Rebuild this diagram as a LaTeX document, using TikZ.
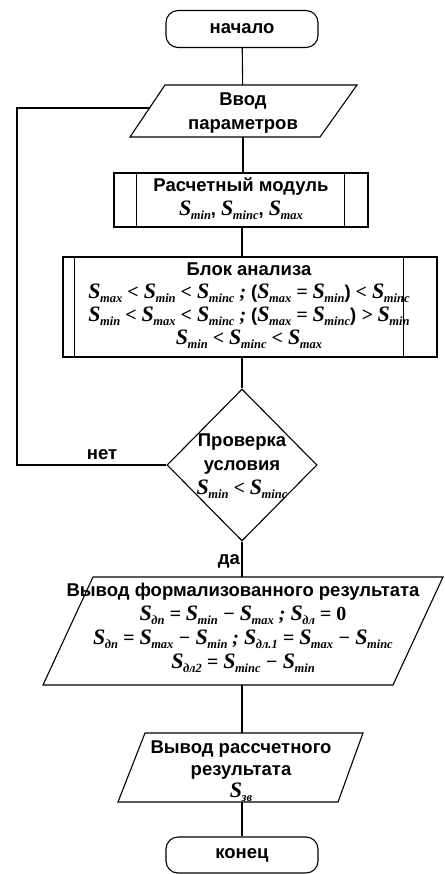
\documentclass[tikz,border=0pt]{standalone}
\usepackage{fontspec}
\setmainfont{Liberation Sans}
\newfontfamily\mf{Liberation Serif}
\usetikzlibrary{shapes.geometric}
\newcommand{\Sv}[1]{{\mf\bfseries\itshape\fontsize{22}{22}\selectfont S\kern-0.5pt\raisebox{-4pt}{\fontsize{12.5}{12.5}\selectfont #1}}}
\newcommand{\op}[1]{{\mf\bfseries\itshape\fontsize{20}{20}\selectfont\hspace{5pt}#1\hspace{5pt}}}
\tikzset{
  txt/.style={font=\fontsize{18.5}{24}\selectfont\bfseries, align=center, inner sep=0pt},
  term/.style={draw, line width=1.1pt, rounded corners=12pt, minimum width=152pt, minimum height=37pt, inner sep=0pt, font=\fontsize{18.5}{22}\selectfont\bfseries},
  box/.style={minimum width=#1, inner sep=0pt},
  ln/.style={line width=1.1pt},
  lbl/.style={font=\fontsize{18.5}{20}\selectfont\bfseries, inner sep=0pt}
}
\begin{document}
\begin{tikzpicture}[x=1pt,y=-1pt]
\useasboundingbox (0,0) rectangle (444,874);
% start
\node[term] (start) at (242,29) {начало};
% input
\node[box=190pt, minimum height=52pt] (inp) at (243,111) {};
\node[txt] (inpt) at (243,113) {Ввод\\параметров};
\draw[ln] (130,137) -- (165,85) -- (357,85) -- (320,137) -- cycle;
\coordinate (lp) at (149.5,108);
% calc
\node[draw, ln, minimum width=254pt, minimum height=54pt, inner sep=0pt] (calc) at (241,200) {};
\draw[ln] ([xshift=23pt]calc.north west) -- ([xshift=23pt]calc.south west);
\draw[ln] ([xshift=-24pt]calc.north east) -- ([xshift=-24pt]calc.south east);
\node[txt] (calct) at (241,199) {Расчетный модуль\\[0pt]\Sv{min}, \Sv{minc}, \Sv{max}};
% analysis
\node[draw, ln, minimum width=374pt, minimum height=100pt, inner sep=0pt] (anal) at (250,307) {};
\draw[ln] ([xshift=12pt]anal.north west) -- ([xshift=12pt]anal.south west);
\draw[ln] ([xshift=-34pt]anal.north east) -- ([xshift=-34pt]anal.south east);
\node[txt, font=\fontsize{18.5}{23}\selectfont\bfseries] (analt) at (249,306) {Блок анализа\\
\Sv{max}\op{<}\Sv{min}\op{<}\Sv{minc}\op{;}(\Sv{max}\op{=}\Sv{min})\op{<}\Sv{minc}\\
\Sv{min}\op{<}\Sv{max}\op{<}\Sv{minc}\op{;}(\Sv{max}\op{=}\Sv{minc})\op{>}\Sv{min}\\
\Sv{min}\op{<}\Sv{minc}\op{<}\Sv{max}};
% decision
\node[draw, ln, diamond, minimum width=150pt, minimum height=152pt, inner sep=0pt] (dec) at (242,465) {};
\node[txt] (dect) at (242,466) {Проверка\\условия\\\Sv{min}\op{<}\Sv{minc}};
% output 1
\node[box=350pt, minimum height=108pt] (out1) at (243,631) {};
\draw[ln] (43,685) -- (93,577) -- (443,577) -- (393,685) -- cycle;
\node[txt, font=\fontsize{18.5}{24}\selectfont\bfseries] (out1t) at (243,628) {Вывод формализованного результата\\
\Sv{дп}\op{=}\Sv{min}\op{−}\Sv{max}\op{;}\Sv{дл}\op{=}{\mf\bfseries\fontsize{20}{20}\selectfont0}\\
\Sv{дп}\op{=}\Sv{max}\op{−}\Sv{min}\op{;}\Sv{дл.1}\op{=}\Sv{max}\op{−}\Sv{minc}\\
\Sv{дл2}\op{=}\Sv{minc}\op{−}\Sv{min}};
% output 2
\node[box=220pt, minimum height=69pt] (out2) at (241,767.5) {};
\draw[ln] (118,802) -- (145,733) -- (363,733) -- (338,802) -- cycle;
\node[txt, font=\fontsize{18.5}{22}\selectfont\bfseries] (out2t) at (241,771) {Вывод рассчетного\\результата\\\Sv{зв}};
% end
\node[term, minimum height=36pt] (end) at (242,855) {конец};
% connectors
\draw[ln] (start) -- (inp);
\draw[ln] (inp) -- (calc.north -| inp);
\draw[ln] (calc.south -| dec) -- (anal.north -| dec);
\draw[ln] (anal.south -| dec) -- (dec.north);
\draw[ln] (dec.south) -- (out1.north -| dec);
\draw[ln] (out1.south -| dec) -- (out2.north -| dec);
\draw[ln] (out2.south -| end) -- (end);
\draw[ln] (dec.west) -- (17,465) |- (lp);
\node[lbl] (no) at (102,455) {нет};
\node[lbl] (yes) at (229,561) {да};
\end{tikzpicture}
\end{document}
